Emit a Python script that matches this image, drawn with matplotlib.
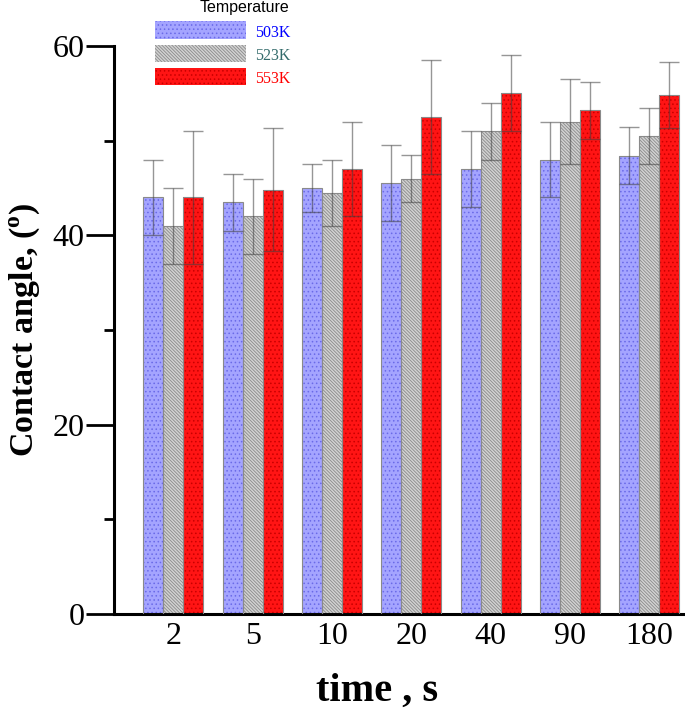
import numpy as np
import matplotlib
matplotlib.use('Agg')
import matplotlib.pyplot as plt
from matplotlib import rcParams as rcp

rcp['font.family'] = 'serif'
rcp['font.serif'] = ['Liberation Serif', 'DejaVu Serif']
rcp['mathtext.fontset'] = 'custom'
rcp['mathtext.rm'] = 'Liberation Serif:bold'
rcp['mathtext.bf'] = 'Liberation Serif:bold'
rcp['hatch.linewidth'] = 0.6

times = ['2', '5', '10', '20', '40', '90', '180']
temps = ['503K', '523K', '553K']
mean_503 = [44.0, 43.5, 45.0, 45.5, 47.0, 48.0, 48.4]
err_503 = [4.0, 3.0, 2.5, 4.0, 4.0, 4.0, 3.0]
mean_523 = [41.0, 42.0, 44.5, 46.0, 51.0, 52.0, 50.5]
err_523 = [4.0, 4.0, 3.5, 2.5, 3.0, 4.5, 3.0]
mean_553 = [44.0, 44.8, 47.0, 52.5, 55.0, 53.2, 54.8]
err_553 = [7.0, 6.5, 5.0, 6.0, 4.0, 3.0, 3.5]

means = [mean_503, mean_523, mean_553]
errs = [err_503, err_523, err_553]
faces = ['#a4a4ff', '#d2d2d2', '#ff1414']
hatchcol = ['#6a6ae8', '#8a8a8a', '#c80000']
hatches = ['....', '\\' * 10, '....']
txtcol = ['#0000ff', '#336b6b', '#ff0000']

fig = plt.figure(figsize=(6.85, 7.10), dpi=100)
ax = fig.add_axes([0.1664, 0.1352, 0.8336, 0.80])

x = np.arange(len(times))
w = 0.252
handles = []
for i in range(3):
    pos = x + (i - 1) * w
    b = ax.bar(pos, means[i], w, color=faces[i], edgecolor=hatchcol[i],
               hatch=hatches[i], linewidth=0, zorder=2)
    ax.bar(pos, means[i], w, fill=False, edgecolor='#8a8a8a', linewidth=0.8, zorder=3)
    ax.errorbar(pos, means[i], yerr=errs[i], fmt='none', ecolor='#404040',
                alpha=0.55, elinewidth=1.0, capsize=7, capthick=1.0, zorder=4)
    handles.append(b)

ax.set_xlim(-0.748, 6.45)
ax.set_ylim(0, 60)
ax.set_xticks(x)
ax.set_xticklabels(times)
ax.set_yticks([0, 20, 40, 60])
ax.set_yticks([10, 30, 50], minor=True)
ax.tick_params(axis='x', length=0, labelsize=23, pad=6)
ax.tick_params(axis='y', which='major', direction='out', length=20, width=2, labelsize=23, pad=1)
ax.tick_params(axis='y', which='minor', direction='out', length=7, width=2)
for s in ['top', 'right']:
    ax.spines[s].set_visible(False)
ax.spines['left'].set_linewidth(2.2)
ax.spines['bottom'].set_linewidth(2.2)

ax.set_xlabel('time , s', fontsize=29, fontweight='bold')
ax.xaxis.set_label_coords(0.46, -0.104)
ax.set_ylabel('Contact angle, ($^{\\mathrm{o}}$)', fontsize=24.5, fontweight='bold')
ax.yaxis.set_label_coords(-0.126, 0.5)

leg = fig.legend(handles, temps, loc='upper left', bbox_to_anchor=(0.226, 0.97),
                 frameon=False, fontsize=14, handlelength=4.7, handleheight=1.0,
                 labelspacing=0.2, handletextpad=0.45, borderpad=0, borderaxespad=0)
for t, c in zip(leg.get_texts(), txtcol):
    t.set_color(c)
    t.set_fontsize(11.5)
fig.text(0.292, 0.99, 'Temperature', family='Liberation Sans', fontsize=11.5,
         ha='left', va='center')

fig.savefig('out.png', dpi=100)
